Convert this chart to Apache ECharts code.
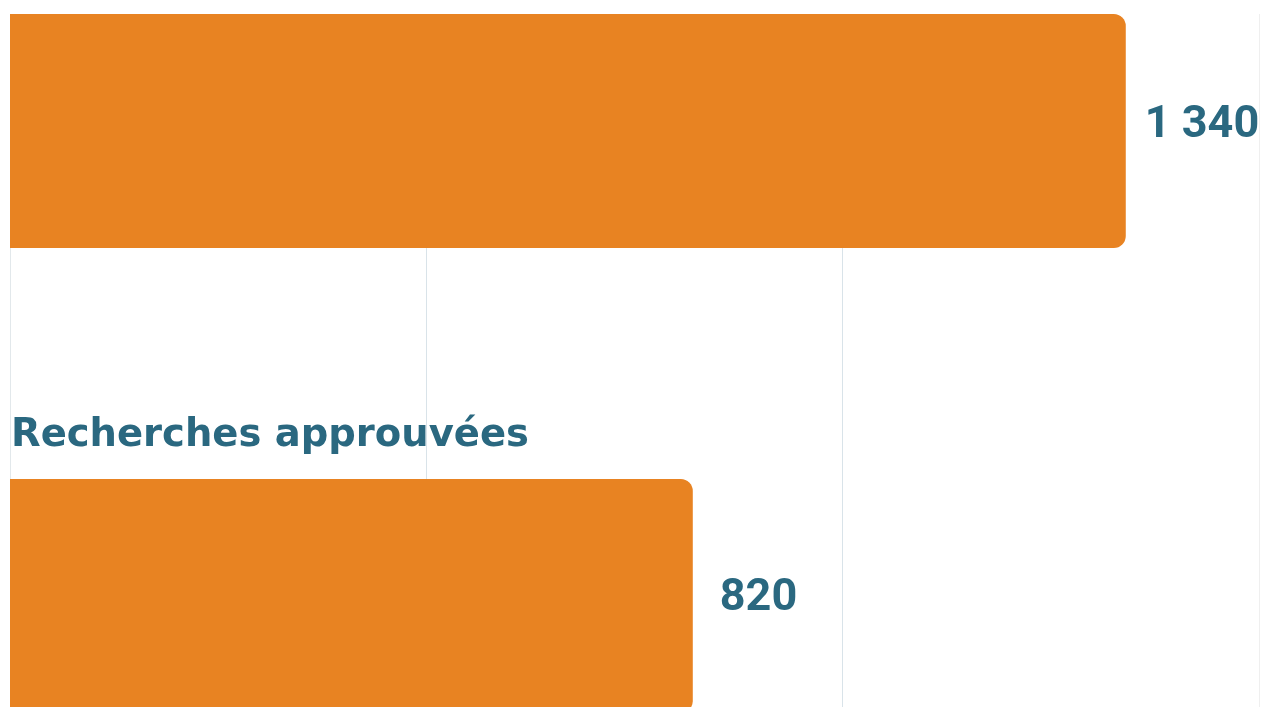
<!DOCTYPE html>
<html>
<head>
<meta charset="utf-8">
<script src="https://cdn.jsdelivr.net/npm/echarts@6/dist/echarts.min.js"></script>
<style>
html,body{margin:0;padding:0;background:#fff;}
#c{width:1261px;height:707px;}
</style>
</head>
<body>
<div id="c"></div>
<script>
// Data
var categories = ['', 'Recherches approuvées'];
var values = [1340, 820];
var axisMax = 1500;
var axisInterval = 500;

function fmt(v){
  return String(v).replace(/\B(?=(\d{3})+(?!\d))/g, ' ');
}

var chart = echarts.init(document.getElementById('c'), null, {renderer:'canvas'});
var teal = '#2a6880';
var orange = '#e88322';

var option = {
  animation: false,
  grid: [
    {left: 10, right: 2, top: -101.5, height: 930, containLabel: false, outerBoundsMode: 'none'},
    {left: 10, right: 2, top: 14, height: 720, containLabel: false, outerBoundsMode: 'none'}
  ],
  xAxis: [
    {gridIndex: 0, type: 'value', min: 0, max: axisMax, interval: axisInterval,
     axisLine:{show:false}, axisTick:{show:false}, axisLabel:{show:false}, splitLine:{show:false}},
    {gridIndex: 1, type: 'value', min: 0, max: axisMax, interval: axisInterval,
     axisLine:{show:false}, axisTick:{show:false}, axisLabel:{show:false},
     splitLine:{show:true, lineStyle:{color:['#e2e8eb','#d9e3e9','#d9e3e9','#efefef'], width:1}}}
  ],
  yAxis: [
    {gridIndex: 0, type: 'category', data: categories, inverse: true,
     axisLine:{show:false}, axisTick:{show:false}, axisLabel:{show:false}, splitLine:{show:false}},
    {gridIndex: 1, type: 'value', min: 0, max: 1,
     axisLine:{show:false}, axisTick:{show:false}, axisLabel:{show:false}, splitLine:{show:false}}
  ],
  series: [
    {
      type: 'bar', xAxisIndex: 0, yAxisIndex: 0,
      data: values.map(function(v, i){
        return i === 0 ? {value: v, label: {distance: 19, offset: [0, -5]}}
                       : {value: v, label: {offset: [0, 3]}};
      }),
      barWidth: 234,
      itemStyle: {color: orange, borderRadius: [0, 12, 12, 0]},
      label: {
        show: true, position: 'right', distance: 27,
        formatter: function(p){ return fmt(p.value); },
        fontFamily: 'Roboto', fontWeight: 'bold', fontSize: 45, color: teal
      },
      z: 3
    },
    {
      type: 'bar', xAxisIndex: 0, yAxisIndex: 0,
      data: values,
      barWidth: 234, barGap: '-100%',
      itemStyle: {color: 'rgba(0,0,0,0)'},
      label: {
        show: true, position: [1, -24],
        align: 'left', verticalAlign: 'bottom',
        formatter: function(p){ return p.name; },
        fontFamily: 'DejaVu Sans', fontWeight: 'bold', fontSize: 38.5, color: teal
      },
      silent: true,
      z: 4
    }
  ]
};
chart.setOption(option);
</script>
</body>
</html>
